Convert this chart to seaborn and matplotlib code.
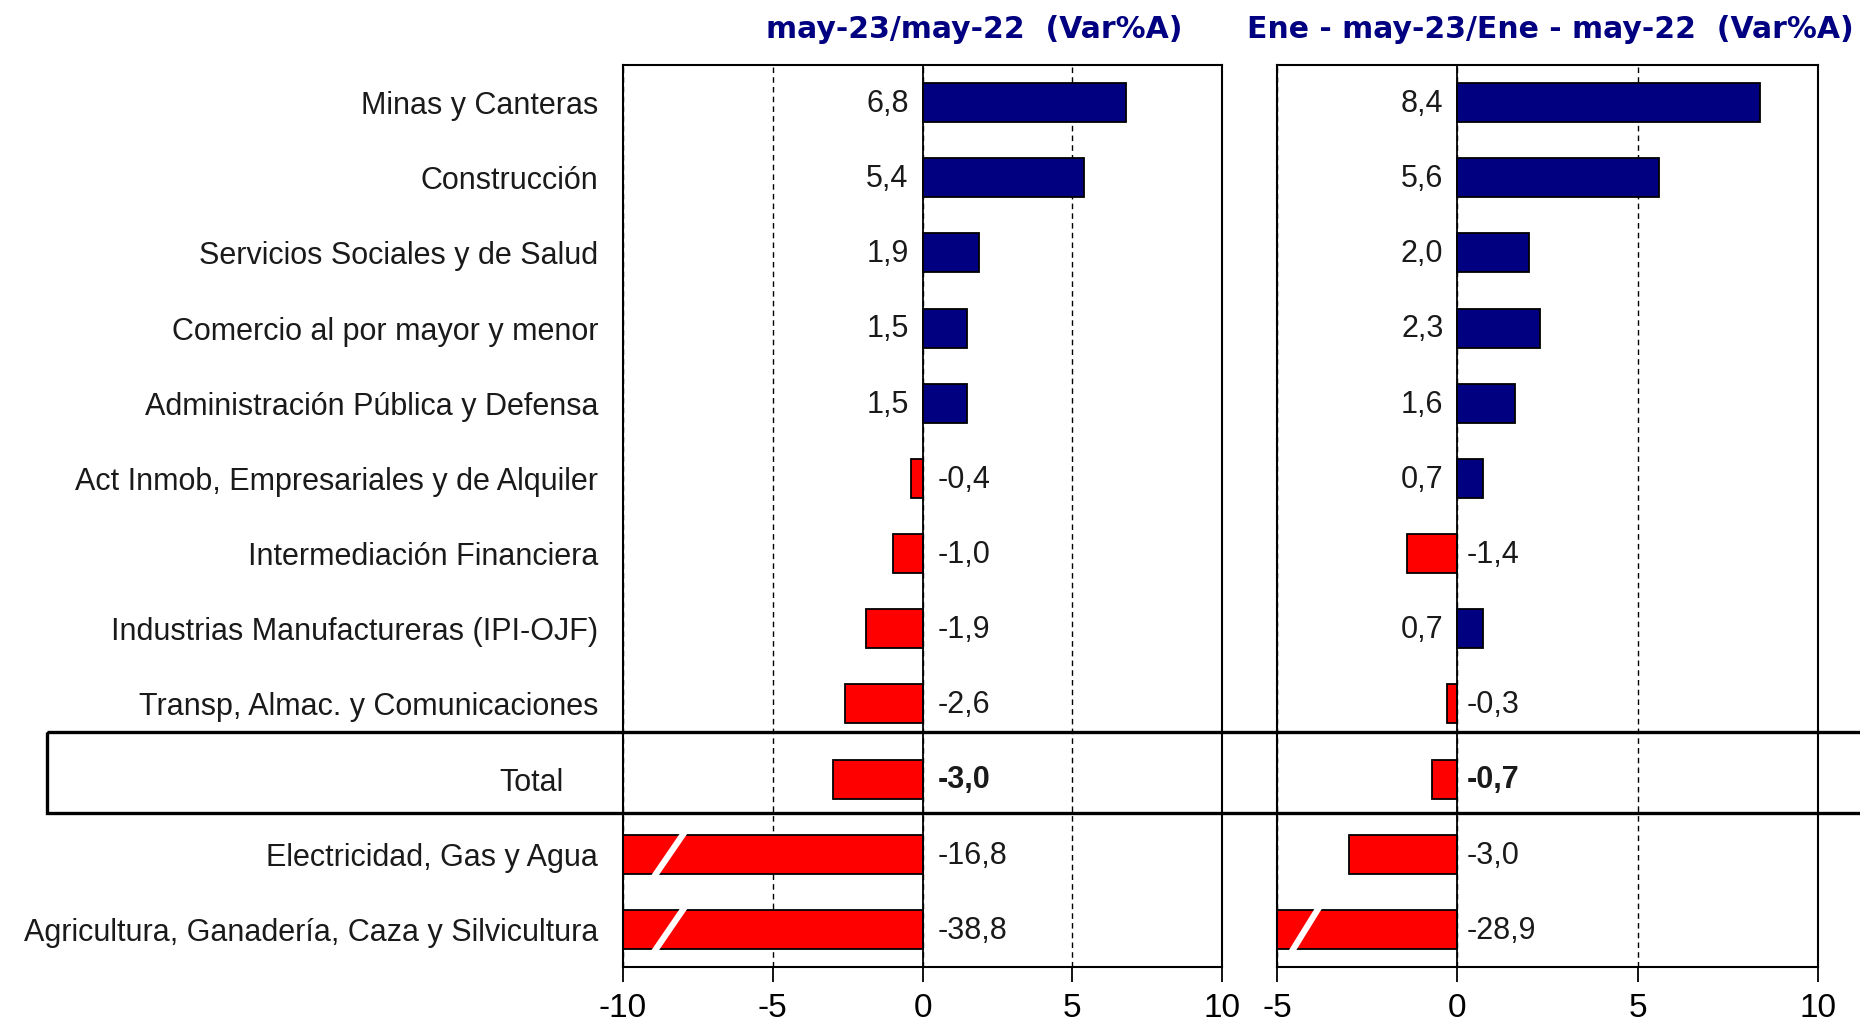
import numpy as np
import pandas as pd
import matplotlib
matplotlib.use("Agg")
import matplotlib.pyplot as plt
import seaborn as sns
from matplotlib.patches import Rectangle
from matplotlib.lines import Line2D
from matplotlib.transforms import blended_transform_factory, ScaledTranslation

# ---------------- data ----------------
categories = [
    "Minas y Canteras",
    "Construcción",
    "Servicios Sociales y de Salud",
    "Comercio al por mayor y menor",
    "Administración Pública y Defensa",
    "Act Inmob, Empresariales y de Alquiler",
    "Intermediación Financiera",
    "Industrias Manufactureras (IPI-OJF)",
    "Transp, Almac. y Comunicaciones",
    "Total",
    "Electricidad, Gas y Agua",
    "Agricultura, Ganadería, Caza y Silvicultura",
]
var_may = [6.8, 5.4, 1.9, 1.5, 1.5, -0.4, -1.0, -1.9, -2.6, -3.0, -16.8, -38.8]
var_acum = [8.4, 5.6, 2.0, 2.3, 1.6, 0.7, -1.4, 0.7, -0.3, -0.7, -3.0, -28.9]
titles = ["may-23/may-22  (Var%A)", "Ene - may-23/Ene - may-22  (Var%A)"]
xticks_left = [-10, -5, 0, 5, 10]
xticks_right = [-5, 0, 5, 10]
total_label = "Total"

# ---------------- style ----------------
sns.set_style("white")
plt.rcParams["font.family"] = ["Liberation Sans", "DejaVu Sans"]

POS = "#000080"
NEG = "#FF0000"
TXT = "#1a1a1a"

fig = plt.figure(figsize=(18.6, 10.26), dpi=100)
ax1 = fig.add_axes([623 / 1860, 1 - 967 / 1026, 599 / 1860, 902 / 1026])
ax2 = fig.add_axes([1277 / 1860, 1 - 967 / 1026, 541 / 1860, 902 / 1026])


def fmt(v):
    return f"{v:.1f}".replace(".", ",")


def panel(ax, vals, ticks, slash_frac, neg_off):
    df = pd.DataFrame({"cat": categories, "val": vals})
    df["sign"] = np.where(df["val"] >= 0, "pos", "neg")
    ax.set_axisbelow(True)
    sns.barplot(data=df, x="val", y="cat", hue="sign", order=categories,
                hue_order=["pos", "neg"], palette={"pos": POS, "neg": NEG},
                dodge=False, orient="h", width=0.52, edgecolor="black",
                linewidth=1.3, saturation=1, legend=False, ax=ax)
    xlim = (ticks[0], ticks[-1])
    ax.set_xlim(*xlim)
    ax.set_ylim(len(categories) - 0.5, -0.5)
    ax.set_xticks(ticks)
    ax.set_xticklabels([str(t) for t in ticks])
    ax.xaxis.grid(True, color="black", linestyle=(0, (4, 3)), linewidth=1.0)
    ax.yaxis.grid(False)
    ax.axvline(0, color="black", linewidth=1.3, zorder=3)
    for s in ax.spines.values():
        s.set_visible(True)
        s.set_color("black")
        s.set_linewidth(1.5)
    ax.tick_params(axis="x", direction="out", length=11, width=1.3,
                   labelsize=24, pad=8, colors="black", bottom=True)
    ax.tick_params(axis="y", length=0)
    ax.set_xlabel("")
    ax.set_ylabel("")
    # value labels
    for i, v in enumerate(vals):
        bold = categories[i] == total_label
        if v >= 0:
            ax.annotate(fmt(v), xy=(0, i), xytext=(-10, -1), textcoords="offset points",
                        ha="right", va="center", fontsize=22, color=TXT,
                        fontweight="bold" if bold else "normal")
        else:
            ax.annotate(fmt(v), xy=(0, i), xytext=(neg_off, -1), textcoords="offset points",
                        ha="left", va="center", fontsize=22, color=TXT,
                        fontweight="bold" if bold else "normal")
        # break marks for bars beyond the axis
        if v < xlim[0]:
            tr = blended_transform_factory(ax.transAxes, ax.transData)
            ax.add_line(Line2D([slash_frac, slash_frac + 0.055], [i + 0.32, i - 0.32],
                               transform=tr, color="white", linewidth=4.5,
                               zorder=5, clip_on=True))


panel(ax1, var_may, xticks_left, 0.05, 11)
panel(ax2, var_acum, xticks_right, 0.025, 7)

ax1.tick_params(axis="y", labelsize=22, pad=18, colors=TXT)
for lab in ax1.get_yticklabels():
    if lab.get_text() == total_label:
        lab.set_transform(lab.get_transform() +
                          ScaledTranslation(-25 / 72, 0, fig.dpi_scale_trans))
ax2.set_yticklabels([])

# Total row frame across the figure
ti = categories.index(total_label)
btr = blended_transform_factory(fig.transFigure, ax1.transData)
fig.add_artist(Rectangle((47 / 1860, ti - 0.62), 1.2, 1.07, transform=btr,
                         fill=False, edgecolor="black", linewidth=2.4,
                         clip_on=False, zorder=10))

# titles
fig.text(974 / 1860, 1 - 30 / 1026, titles[0], ha="center", va="center",
         fontsize=21.5, fontweight="bold", color="#000080", family="DejaVu Sans")
fig.text(1550 / 1860, 1 - 30 / 1026, titles[1], ha="center", va="center",
         fontsize=21.5, fontweight="bold", color="#000080", family="DejaVu Sans")

fig.savefig("out.png", dpi=100, facecolor="white")
